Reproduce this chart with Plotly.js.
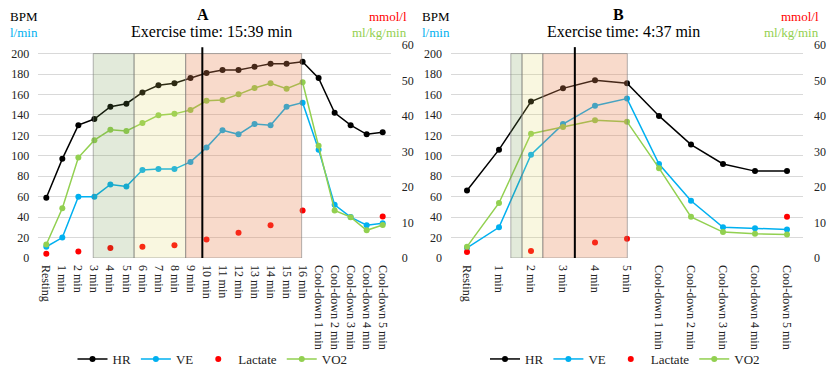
<!DOCTYPE html>
<html><head><meta charset="utf-8">
<script src="https://cdn.plot.ly/plotly-3.0.1.min.js"></script>
<style>html,body{margin:0;padding:0;background:#fff}#chart{width:831px;height:367px}</style>
</head><body><div id="chart"></div>
<script>
// ---------- Panel A data ----------
const catsA = ['Resting','1 min','2 min','3 min','4 min','5 min','6 min','7 min','8 min','9 min','10 min','11 min','12 min','13 min','14 min','15 min','16 min','Cool-down 1 min','Cool-down 2 min','Cool-down 3 min','Cool-down 4 min','Cool-down 5 min'];
const hrA  = [59,97,130,136,148,151,162,169,171,176,181,184,184,187,190,190,192,176,142,130,121,123];
const veA  = [11,20,60,60,72,70,86,87,87,94,108,125,121,131,130,148,152,106,52,40,32,34];
const lacA = [1.2,null,1.8,null,2.8,null,3.2,null,3.6,null,5.2,null,7.1,null,9.2,null,13.4,null,null,null,null,11.7];
const vo2A = [3.8,14.0,28.3,33.2,36.1,35.8,38.0,40.2,40.6,41.7,44.3,44.5,46.1,47.9,49.2,47.7,49.5,31.6,13.4,11.5,7.8,9.3];
const zonesA = [2.93, 5.48, 8.70, 15.94];   // zone boundaries (category index)
const exLineA = 9.74;
const titleA = 'Exercise time: 15:39 min';

// ---------- Panel B data ----------
const catsB = ['Resting','1 min','2 min','3 min','4 min','5 min','Cool-down 1 min','Cool-down 2 min','Cool-down 3 min','Cool-down 4 min','Cool-down 5 min'];
const hrB  = [66,106,153,166,174,171,139,111,92,85,85];
const veB  = [10,30,101,131,149,156,92,56,30,29,28];
const lacB = [1.7,null,2.0,null,4.4,5.4,null,null,null,null,11.6];
const vo2B = [3.2,15.5,35.0,36.9,38.8,38.4,25.3,11.6,7.3,6.8,6.6];
const zonesB = [1.37, 1.72, 2.37, 5.01];
const exLineB = 3.37;
const titleB = 'Exercise time: 4:37 min';

const FONT = 'Liberation Serif';
const C_HR = '#000000', C_VE = '#00B0F0', C_LAC = '#FF0000', C_VO2 = '#92D050';

function panelTraces(cats, hr, ve, lac, vo2, xa, yl, yr, leg) {
  return [
    {x: cats, y: hr, name: 'HR', mode: 'lines+markers', xaxis: xa, yaxis: yl, legend: leg,
     line: {color: C_HR, width: 1.5}, marker: {color: C_HR, size: 6}},
    {x: cats, y: ve, name: 'VE', mode: 'lines+markers', xaxis: xa, yaxis: yl, legend: leg,
     line: {color: C_VE, width: 1.5}, marker: {color: C_VE, size: 6}},
    {x: cats, y: lac, name: 'Lactate', mode: 'markers', xaxis: xa, yaxis: yr, legend: leg,
     marker: {color: C_LAC, size: 6}},
    {x: cats, y: vo2, name: 'VO2', mode: 'lines+markers', xaxis: xa, yaxis: yr, legend: leg,
     line: {color: C_VO2, width: 1.5}, marker: {color: C_VO2, size: 6}}
  ];
}

const data = [
  ...panelTraces(catsA, hrA, veA, lacA, vo2A, 'x', 'y', 'y2', 'legend'),
  ...panelTraces(catsB, hrB, veB, lacB, vo2B, 'x2', 'y3', 'y4', 'legend2')
];

const fills = ['rgba(112,148,72,0.2)', 'rgba(225,215,100,0.2)', 'rgba(232,132,82,0.3)'];
function zoneShapes(z, line, xr, yr) {
  const s = [];
  for (let i = 0; i < 3; i++) {
    s.push({type: 'rect', xref: xr, yref: yr, x0: z[i], x1: z[i+1], y0: 0, y1: 200,
            fillcolor: fills[i], line: {color: 'rgba(120,120,120,0.55)', width: 1}, layer: 'above'});
  }
  s.push({type: 'line', xref: xr, yref: yr + ' domain', x0: line, x1: line, y0: 0, y1: 0.99,
          line: {color: '#000', width: 2}, layer: 'above'});
  return s;
}

const domA = [38.3/831, 390.7/831];
const domB = [451/831, 803/831];
const tickFont = {family: FONT, size: 12, color: '#222'};

function xAxis(cats, dom, anchor, n) {
  return {domain: dom, anchor: anchor, type: 'category', categoryarray: cats, range: [-0.5, n - 0.5],
          tickangle: 90, tickfont: tickFont, showgrid: false, zeroline: false, showline: false,
          ticks: '', ticklabelstandoff: 6, fixedrange: true, automargin: false};
}
function yLeft(anchor) {
  return {anchor: anchor, range: [0, 208.4], dtick: 20, tick0: 0, showgrid: true, gridcolor: '#d9d9d9',
          gridwidth: 1, zeroline: false, showline: false, ticks: '', tickfont: tickFont, ticklabelstandoff: 8,
          automargin: false};
}
function yRight(anchor, over) {
  return {anchor: anchor, overlaying: over, side: 'right', range: [0, 60], dtick: 10, tick0: 0,
          showgrid: false, zeroline: false, showline: false, ticks: '', tickfont: tickFont, ticklabelstandoff: 10,
          automargin: false};
}

function py(p) { return (258.3 - p) / 213.3; }
function ann(text, xpx, ypx, color, size, anchor, bold) {
  return {text: bold ? '<b>' + text + '</b>' : text, xref: 'paper', yref: 'paper', x: xpx / 831, y: py(ypx),
          xanchor: anchor, yanchor: 'middle', showarrow: false, font: {family: FONT, size: size, color: color}};
}

const legY = (367 - 359) / 367;
const layout = {
  width: 831, height: 367,
  margin: {l: 0, r: 0, t: 45, b: 109, autoexpand: false},
  paper_bgcolor: '#fff', plot_bgcolor: '#fff',
  font: {family: FONT, size: 12, color: '#222'},
  xaxis: xAxis(catsA, domA, 'y', catsA.length),
  yaxis: yLeft('x'),
  yaxis2: yRight('x', 'y'),
  xaxis2: xAxis(catsB, domB, 'y3', catsB.length),
  yaxis3: yLeft('x2'),
  yaxis4: yRight('x2', 'y3'),
  legend: {orientation: 'h', x: 212.5/831, xanchor: 'center', yref: 'container', y: legY, yanchor: 'middle',
           font: {family: FONT, size: 13, color: '#222'}, itemwidth: 30, bgcolor: 'rgba(0,0,0,0)'},
  legend2: {orientation: 'h', x: 625/831, xanchor: 'center', yref: 'container', y: legY, yanchor: 'middle',
           font: {family: FONT, size: 13, color: '#222'}, itemwidth: 30, bgcolor: 'rgba(0,0,0,0)'},
  shapes: [...zoneShapes(zonesA, exLineA, 'x', 'y'), ...zoneShapes(zonesB, exLineB, 'x2', 'y3')],
  annotations: [
    ann('A', 202.5, 14, '#000', 16, 'center', true),
    ann(titleA, 211.5, 31, '#000', 16, 'center', false),
    ann('BPM', 40, 16, '#000', 13, 'right', false),
    ann('l/min', 40, 32, C_VE, 13, 'right', false),
    ann('mmol/l', 408.5, 16, C_LAC, 13, 'right', false),
    ann('ml/kg/min', 408.5, 32, C_VO2, 13, 'right', false),
    ann('B', 618.5, 14, '#000', 16, 'center', true),
    ann(titleB, 623.5, 31, '#000', 16, 'center', false),
    ann('BPM', 452, 16, '#000', 13, 'right', false),
    ann('l/min', 452, 32, C_VE, 13, 'right', false),
    ann('mmol/l', 821, 16, C_LAC, 13, 'right', false),
    ann('ml/kg/min', 821, 32, C_VO2, 13, 'right', false)
  ]
};

Plotly.newPlot('chart', data, layout, {displayModeBar: false, staticPlot: true});
</script>
</body></html>
